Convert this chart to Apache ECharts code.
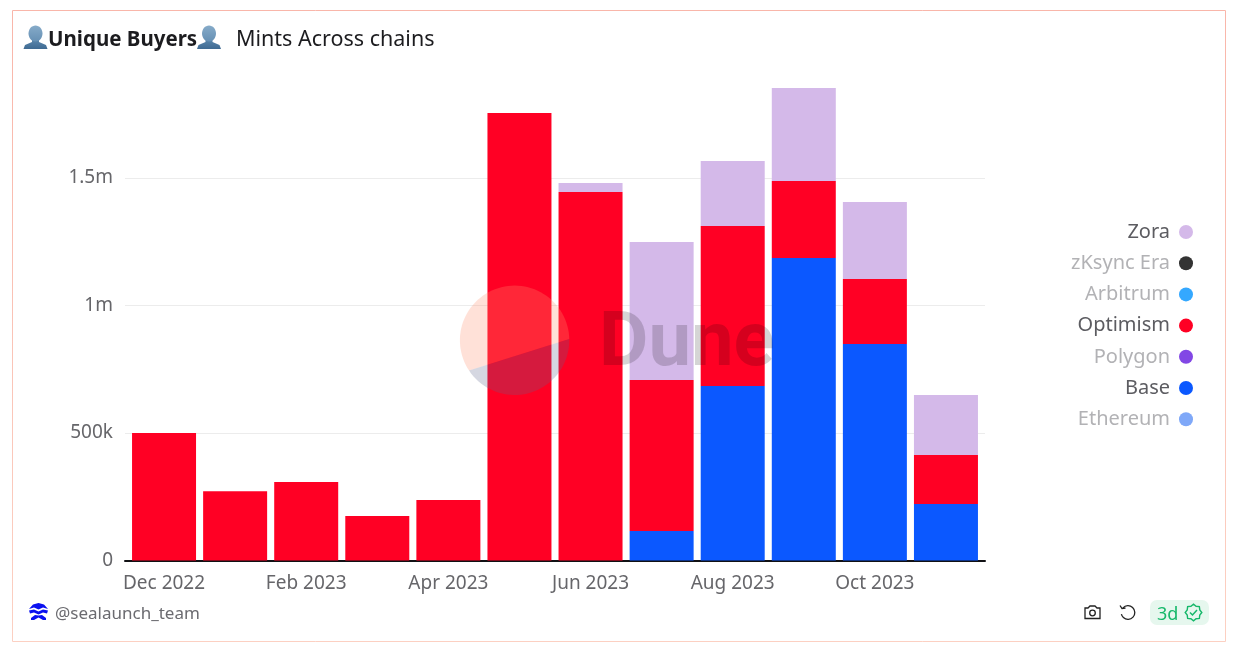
<!DOCTYPE html>
<html>
<head>
<meta charset="utf-8">
<style>html,body{margin:0;padding:0;background:#fff}#c{width:1240px;height:654px}</style>
<script src="https://cdn.jsdelivr.net/npm/echarts@6/dist/echarts.min.js"></script>
</head>
<body>
<div id="c"></div>
<script>
const categories = ['Dec 2022','Jan 2023','Feb 2023','Mar 2023','Apr 2023','May 2023','Jun 2023','Jul 2023','Aug 2023','Sep 2023','Oct 2023','Nov 2023'];
const baseValues = [0,0,0,0,0,0,0,116000,684000,1186000,849000,222000];
const optimismValues = [500000,272000,308000,175000,237000,1755000,1445000,592000,628000,302000,255000,192000];
const zoraValues = [0,0,0,0,0,0,35000,541000,255000,365000,302000,235000];
const emptyValues = [];
const legendNames = ['Zora','zKsync Era','Arbitrum','Optimism','Polygon','Base','Ethereum'];
const activeNames = ['Zora','Optimism','Base'];
const colors = {Zora:'#d4b9e9','zKsync Era':'#333333',Arbitrum:'#34a8ff',Optimism:'#ff0024',Polygon:'#8247e5',Base:'#0b58ff',Ethereum:'#7fa8f8'};
const valuesByName = {Ethereum:emptyValues,Base:baseValues,Polygon:emptyValues,Optimism:optimismValues,Arbitrum:emptyValues,'zKsync Era':emptyValues,Zora:zoraValues};
const FONT = '"Noto Sans", sans-serif';
const GREEN = '#16b86a';

function arcPts(cx, cy, r, a0, a1, n) {
  const p = [];
  for (let i = 0; i <= n; i++) { const a = a0 + (a1 - a0) * i / n; p.push([cx + r * Math.cos(a), cy + r * Math.sin(a)]); }
  return p;
}
function seal(cx, cy, r1, r2, n) {
  const p = [];
  for (let i = 0; i < n * 2; i++) { const a = Math.PI * i / n, r = i % 2 ? r2 : r1; p.push([cx + r * Math.cos(a), cy + r * Math.sin(a)]); }
  return p;
}
const LOGO = {cx:514.6, cy:340.3, r:54.7};
const aR = Math.atan2(339 - LOGO.cy, 569.3 - LOGO.cx);
const aL = Math.atan2(370 - LOGO.cy, 470 - LOGO.cx);

function person(x, y) {
  return [
    {type:'polygon',z:20,silent:true,shape:{points:[[x+8,y+12],[x+15,y+12],[x+15,y+16],[x+22,y+19],[x+23.5,y+23],[x-0.5,y+23],[x+1,y+19],[x+8,y+16]]},
      style:{fill:{type:'linear',x:0,y:0,x2:0,y2:1,colorStops:[{offset:0,color:'#5f8bb0'},{offset:1,color:'#3f6a92'}]}}},
    {type:'ellipse',z:21,silent:true,shape:{cx:x+11.5,cy:y+7.5,rx:7,ry:8},
      style:{fill:{type:'linear',x:0,y:0,x2:0,y2:1,colorStops:[{offset:0,color:'#86abc9'},{offset:1,color:'#6690b4'}]}}}
  ];
}

const chart = echarts.init(document.getElementById('c'), null, {renderer:'canvas'});
chart.setOption({
  animation:false,
  backgroundColor:'#fff',
  textStyle:{fontFamily:FONT},
  title:[
    {text:'Unique Buyers', left:48, top:30, padding:0, textStyle:{fontFamily:FONT,fontSize:20.5,fontWeight:'bold',color:'#1c1c1f'}},
    {text:'Mints Across chains', left:236, top:29, padding:0, textStyle:{fontFamily:FONT,fontSize:21.5,fontWeight:'normal',color:'#1c1c1f'}}
  ],
  grid:[
    {left:125, width:860, top:76, height:484.5},
    {left:128.5, width:853, top:76, height:484.5}
  ],
  xAxis:[
    {gridIndex:0,type:'value',min:0,max:1,axisLine:{show:true,onZero:false,lineStyle:{color:'#111114',width:2}},axisTick:{show:false},axisLabel:{show:false},splitLine:{show:false}},
    {gridIndex:1,type:'category',data:categories,axisLine:{show:false},axisTick:{show:false},
     axisLabel:{interval:1,margin:14,fontFamily:FONT,fontSize:19,color:'#66666a'}}
  ],
  yAxis:[
    {gridIndex:0,type:'value',min:0,max:1900000,interval:500000,axisLine:{show:false},axisTick:{show:false},
     splitLine:{show:true,showMaxLine:false,lineStyle:{color:'#ececec',width:1}},
     axisLabel:{showMaxLabel:false,margin:12,fontFamily:FONT,fontSize:19,color:'#66666a',padding:[0,0,4,0],
       formatter:v=>v===0?'0':v>=1000000?(v/1000000)+'m':(v/1000)+'k'}},
    {gridIndex:1,type:'value',min:0,max:1900000,interval:500000,show:false}
  ],
  legend:{
    orient:'vertical',right:47,top:222,align:'right',padding:0,itemWidth:14,itemHeight:14,itemGap:11.2,icon:'circle',
    selectedMode:false,
    data:legendNames.map(n=>({name:n,textStyle:{fontFamily:FONT,fontSize:20,padding:[4,4,0,0],color:activeNames.includes(n)?'#5c5c61':'#b2b2b5'}}))
  },
  series:Object.keys(valuesByName).map(n=>({
    name:n,type:'bar',stack:'t',xAxisIndex:1,yAxisIndex:1,barWidth:64,
    itemStyle:{color:colors[n]},data:valuesByName[n]
  })),
  graphic:[
    {type:'rect',z:0,silent:true,shape:{x:12.5,y:10.5,width:1213,height:631},
     style:{fill:'transparent',lineWidth:1,stroke:{type:'linear',x:0,y:0,x2:0,y2:1,colorStops:[{offset:0,color:'#f9b6aa'},{offset:1,color:'#fcd0c2'}]}}},
    ...person(24,26),
    ...person(197.5,26),
    {type:'polygon',z:30,silent:true,shape:{points:arcPts(LOGO.cx,LOGO.cy,LOGO.r,aL,aR+2*Math.PI,60)},style:{fill:'rgba(255,145,110,0.27)'}},
    {type:'polygon',z:30,silent:true,shape:{points:arcPts(LOGO.cx,LOGO.cy,LOGO.r,aR,aL,40)},style:{fill:'rgba(93,100,140,0.26)'}},
    {type:'text',z:30,silent:true,left:599,top:308,style:{text:'Dune',fontFamily:'Roboto, sans-serif',fontWeight:'bold',fontSize:76,fill:'rgba(0,0,0,0.165)'}},
    // footer logo
    {type:'polygon',z:20,silent:true,shape:{points:[[29,609],[33,604.5],[38.5,603],[44,604.5],[48,609],[43,607.5],[38.5,609.5],[34,607.5]]},style:{fill:'#0a10f0'}},
    {type:'polygon',z:20,silent:true,shape:{points:[[29,610.5],[34,609.5],[38.5,611.5],[43,609.5],[48,610.5],[47,613.5],[43,612.5],[38.5,614.5],[34,612.5],[30,613.5]]},style:{fill:'#0a10f0'}},
    {type:'polygon',z:20,silent:true,shape:{points:[[31,618],[35,615],[38.5,615.5],[42,615],[46,618],[46,620],[43,620],[38.5,617.5],[34,620],[31,620]]},style:{fill:'#0a10f0'}},
    {type:'text',z:20,silent:true,left:55,top:606,style:{text:'@sealaunch_team',fontFamily:FONT,fontSize:17,fill:'#6b6b70'}},
    // camera
    {type:'polygon',z:20,silent:true,shape:{points:[[1085,608],[1088,608],[1090,606],[1095,606],[1097,608],[1100,608],[1100,618.5],[1085,618.5]]},style:{fill:'none',stroke:'#222',lineWidth:1.3}},
    {type:'circle',z:20,silent:true,shape:{cx:1092.5,cy:613,r:2.8},style:{fill:'none',stroke:'#222',lineWidth:1.3}},
    // reset
    {type:'arc',z:20,silent:true,shape:{cx:1128,cy:612.5,r:6.8,startAngle:-2.4,endAngle:2.9,clockwise:true},style:{fill:'none',stroke:'#222',lineWidth:1.3}},
    {type:'polyline',z:20,silent:true,shape:{points:[[1120,605.5],[1122,608.5],[1125.5,608]]},style:{fill:'none',stroke:'#222',lineWidth:1.3}},
    // freshness badge
    {type:'rect',z:19,silent:true,shape:{x:1150,y:600,width:59,height:25,r:7},style:{fill:'#e6f7ee'}},
    {type:'text',z:20,silent:true,left:1157,top:605.5,style:{text:'3d',fontFamily:FONT,fontSize:18,fill:GREEN}},
    {type:'polygon',z:20,silent:true,shape:{points:seal(1193.5,612.5,8.3,6.8,8)},style:{fill:'none',stroke:GREEN,lineWidth:1.4}},
    {type:'polyline',z:20,silent:true,shape:{points:[[1190,612.5],[1192.5,615],[1197,610]]},style:{fill:'none',stroke:GREEN,lineWidth:1.5}}
  ]
});
</script>
</body>
</html>
